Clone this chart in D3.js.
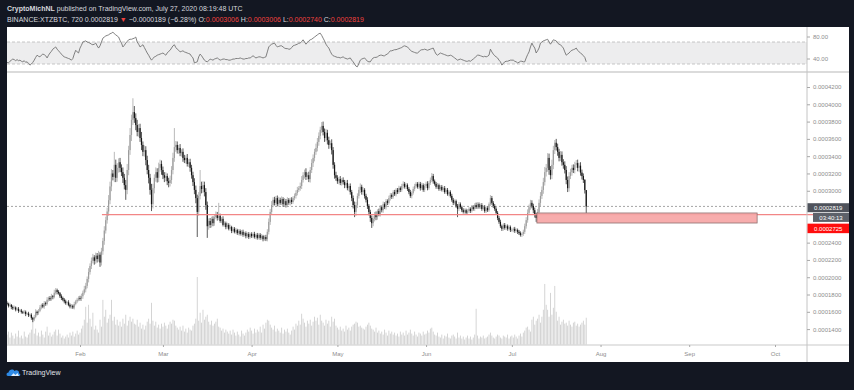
<!DOCTYPE html>
<html><head><meta charset="utf-8">
<script src="https://cdn.jsdelivr.net/npm/d3@7"></script>
<style>html,body{margin:0;padding:0;background:#131722;overflow:hidden}</style>
</head><body>
<svg id="c" width="854" height="390"></svg>
<script>
// ---------- DATA (prices in units of 1e-7 BTC) ----------
const UNIT = 1e-7;
const firstCandle = Date.UTC(2020, 0, 6, 12);
const candleMs = 12 * 3600 * 1000;
const firstOpen = 1700;
const closes = [
1690,1670,1680,1655,1640,1650,1625,1635,1610,1615,
1600,1590,1600,1575,1580,1560,1565,1530,1510,1540,
1600,1585,1610,1650,1680,1660,1700,1690,1740,1760,
1745,1780,1770,1820,1850,1830,1815,1780,1760,1740,
1720,1700,1710,1680,1660,1670,1650,1690,1720,1740,
1760,1750,
1780,1820,1860,1900,1980,2060,2130,2190,2230,2190,
2250,2210,2260,2170,2300,2420,2540,2660,2760,2890,
3050,3200,3160,3300,3150,3265,3330,3265,3215,3150,
3065,3010,3240,3470,3645,3820,3910,3840,3760,3680,
3725,3610,3530,3450,3470,3355,3240,3150,3010,2845,
3030,3150,3215,3150,3265,3310,3240,
3180,3150,3170,3110,3090,3125,3240,3380,3505,3530,
3470,3495,3435,3450,3380,3355,3380,3310,3330,3265,
3180,3100,3010,2915,2755,2940,3055,3020,3065,2985,
2835,2590,2650,2605,2675,2625,2695,2730,2685,2710,
2650,2675,2605,2625,2580,2605,2560,2580,2535,2560,
2525,2545,2510,2535,2500,2525,2490,2510,2475,2500,
2465,2500,
2475,2500,2465,2490,2455,2490,2455,2475,2440,2465,
2440,2525,2640,2755,2835,2895,2860,2915,2845,2895,
2860,2905,2845,2880,2835,2895,2860,2895,2870,2915,
2940,2975,3010,3030,3055,3125,3180,3215,3160,3180,
3135,3240,3320,3380,3450,3495,3565,3635,3705,3750,
3680,3610,3670,3585,3530,3550,3470,3300,3180,3150,
3110,3135,3090,3125,3100,3065,3090,3030,3055,2985,
2915,2835,2755,2835,2940,3010,3045,2985,3010,2940,
2895,2825,2755,2685,2625,2675,2730,2695,2765,2730,
2810,2775,2845,2810,2880,2860,2915,2950,2930,2985,
2960,3010,2985,3030,3010,3055,3080,3045,3065,3020,
2985,2940,2975,3020,3055,3080,3045,3080,3030,3065,
3010,3055,
3080,3030,3090,3125,3170,3110,3080,3045,3065,3020,
3045,3010,3030,2985,3010,2960,2985,2940,2895,2860,
2880,2825,2790,2845,2810,2775,2755,2775,2745,2765,
2790,2765,2810,2790,2835,2810,2845,2810,2835,2790,
2810,2765,2800,2775,2845,2915,2860,2825,2790,2745,
2685,2640,2590,2560,2605,2570,2590,2560,2580,2545,
2545,2560,2535,2545,2525,2510,2490,2500,2525,2590,
2660,2745,2810,2860,2825,2775,2720,2685,2755,2860,
2940,3010,3100,3215,3265,3380,3240,3180,3300,3470,
3555,3505,3450,3380,3415,3330,3300,3240,3125,3030,
3170,3215,3265,3240,3300,3320,3265,3290,3210,3170,
3125,3008,2819
];
const wickHi = [
20,15,25,10,18,22,12,16,20,14,
18,12,22,15,10,20,14,18,12,25,
30,15,22,28,14,20,25,18,30,16,
22,28,15,35,25,18,20,14,22,16,
18,20,12,24,16,20,14,26,18,22,
20,25,
30,25,40,35,28,45,30,38,
40,25,35,30,45,28,40,35,50,40,
45,60,55,50,40,150,60,55,45,50,
40,55,45,60,70,50,80,60,160,70,
55,60,45,50,70,40,55,45,50,60,
45,70,50,40,55,45,60,50,40,
40,35,45,30,40,50,45,60,220,45,
40,35,45,30,40,35,30,45,35,40,
35,40,45,50,40,45,185,50,45,40,
45,40,30,35,25,30,35,30,25,150,
25,20,30,22,18,25,20,28,15,22,
20,25,15,22,18,20,25,15,20,18,
22,15,
20,18,25,15,22,18,20,25,15,20,
25,30,40,35,45,30,35,25,30,35,
25,30,20,35,25,30,20,25,30,22,
28,30,35,25,40,45,35,30,45,30,
40,35,45,40,35,50,45,40,35,45,
50,40,45,35,40,30,45,35,30,40,
30,25,35,20,30,25,30,35,25,30,
25,30,40,35,30,35,40,25,30,20,
25,30,20,25,30,35,25,30,20,28,
25,20,30,22,25,20,28,25,20,22,
25,20,22,28,20,25,30,22,25,20,
22,25,20,28,25,22,20,25,22,28,
20,25,
25,30,22,28,35,25,20,22,25,18,
20,22,18,25,20,22,18,20,25,22,
20,18,22,25,20,18,22,20,18,22,
20,18,25,22,20,28,22,20,18,22,
20,25,22,18,20,35,25,20,22,18,
20,22,25,18,20,22,18,20,22,18,
20,18,22,20,18,22,20,18,25,30,
35,40,30,35,30,25,30,25,35,40,
45,40,50,60,45,55,50,45,60,50,
32,45,40,35,45,40,35,40,45,40,
45,40,35,40,35,35,40,35,40,35,
30,10,0
];
const wickLo = [
15,20,12,25,18,14,20,16,22,12,
20,15,18,25,12,20,16,22,30,18,
15,25,20,14,22,18,25,20,16,22,
20,18,25,15,22,28,16,20,24,18,
22,18,25,16,20,24,18,22,15,20,
18,22,
25,30,22,35,28,40,30,35,
30,45,35,40,30,50,35,40,45,35,
40,50,45,55,40,60,50,45,55,50,
45,60,50,115,50,60,55,70,60,55,
60,50,55,45,60,50,55,60,50,65,
55,80,50,60,45,55,50,45,55,
45,50,40,45,50,40,45,50,45,55,
40,45,35,40,45,35,40,30,35,45,
40,45,50,60,290,45,40,50,45,50,
55,135,40,35,30,35,30,25,30,25,
20,25,18,22,25,20,18,22,25,20,
18,22,20,25,18,20,22,18,25,20,
22,18,
20,22,18,25,20,18,22,20,25,18,
22,25,30,35,30,25,30,28,25,30,
22,25,30,20,28,25,22,30,25,20,
25,30,28,25,30,35,30,40,35,30,
35,40,35,45,40,35,40,45,40,35,
40,45,40,50,45,40,50,45,40,35,
30,35,25,30,28,35,30,25,35,30,
35,40,60,45,35,30,35,30,35,30,
30,35,40,45,55,35,30,35,30,25,
28,25,30,22,28,25,20,28,25,22,
20,25,22,20,25,22,28,20,25,22,
25,22,28,20,25,22,20,25,28,20,
22,25,
22,25,20,22,25,28,20,22,25,20,
22,18,25,20,22,18,25,20,22,25,
20,22,95,25,20,22,18,20,22,18,
20,22,18,20,25,20,22,18,20,22,
18,20,22,20,18,20,22,25,22,20,
25,22,20,25,22,20,25,22,20,22,
20,25,22,20,25,22,20,25,22,25,
28,30,25,30,28,35,30,45,30,35,
40,35,45,40,50,45,55,50,45,50,
45,40,45,40,35,40,45,40,50,45,
40,35,40,35,40,35,40,45,35,40,
35,40,79
];
const volumes = [
100,130,70,120,90,60,110,80,140,70,
90,60,130,80,70,100,120,150,250,110,
160,90,120,80,140,100,70,130,180,90,
120,80,100,130,150,90,150,110,70,90,
60,80,100,70,120,90,130,80,110,140,
100,120,
160,190,250,380,220,400,260,180,
320,150,190,150,120,250,180,450,280,350,
220,260,300,450,240,280,200,250,190,230,
180,260,210,300,190,240,280,230,260,210,
200,250,180,220,160,200,150,190,230,260,
210,420,240,190,230,170,200,160,210,
180,220,190,160,200,230,210,250,240,190,
170,150,180,140,190,130,160,120,170,150,
140,190,210,260,680,240,320,220,350,250,
280,300,230,200,240,190,210,230,260,180,
170,140,160,120,150,130,110,140,100,150,
120,90,130,100,80,140,110,90,120,150,
130,170,
140,110,160,120,150,130,180,120,200,160,
220,250,240,200,170,150,190,130,160,140,
120,170,110,150,130,160,120,100,140,180,
150,210,190,240,200,310,260,220,180,240,
210,250,190,230,280,240,270,200,300,240,
220,190,250,210,240,180,280,230,260,190,
170,150,180,140,160,130,190,150,170,140,
180,200,210,230,220,180,190,170,160,150,
180,200,220,190,160,150,130,170,120,140,
110,130,100,150,120,90,140,110,130,100,
120,90,110,80,130,100,120,90,140,100,
120,150,110,90,130,100,80,120,110,90,
130,100,
110,140,120,160,170,130,100,90,120,80,
70,100,60,90,80,110,70,60,90,100,
80,60,120,70,90,60,80,50,70,90,
60,80,50,70,100,360,90,60,80,70,
90,60,70,80,100,120,90,70,60,80,
100,90,70,60,90,80,70,100,60,80,
90,70,100,80,60,90,110,80,120,140,
170,180,150,130,250,280,200,240,260,300,
220,280,350,610,400,350,280,520,300,370,
590,330,240,280,200,230,250,210,220,190,
240,200,180,220,230,190,210,180,200,220,
240,200,270
];
const rsi = [
33,32,35,37,39,38,36,38,36,37,
35,34,36,33,34,31,28,30,33,37,
42,46,44,43,46,48,47,45,41,46,
50,53,57,59,61,57,54,51,48,45,
43,42,41,40,39,37,40,48,55,52,
50,59,64,70,71,72,70,69,68,66,
65,66,68,63,59,63,70,77,79,81,
82,83,85,86,88,85,83,81,79,73,
68,61,64,68,71,74,75,75,76,77,
79,70,66,61,63,65,60,55,50,46,
41,37,40,43,44,46,47,48,49,50,
48,46,50,53,55,59,63,65,60,57,
55,52,53,54,52,51,50,49,48,44,
41,32,33,34,43,48,45,41,37,35,
34,36,39,38,37,39,40,41,39,37,
38,39,39,38,38,37,37,38,39,39,
40,40,40,41,40,39,39,40,40,41,
41,43,45,43,41,42,43,43,42,41,
42,43,52,61,64,66,67,68,64,61,
62,63,63,61,59,58,58,57,57,60,
63,64,65,66,68,68,71,74,70,66,
69,72,74,75,77,79,81,83,85,86,
82,77,72,66,62,59,53,48,45,44,
43,42,42,41,42,43,41,40,39,40,
41,37,34,30,26,25,31,37,39,40,
41,38,35,34,34,38,41,42,42,43,
45,46,46,45,45,47,48,51,54,54,
55,56,56,57,58,59,60,62,63,62,
61,58,55,53,52,51,50,50,52,55,
56,56,57,56,55,56,57,58,59,53,
48,46,48,50,49,48,47,46,45,45,
46,45,43,41,39,37,38,39,38,37,
36,35,35,36,35,37,39,41,44,46,
46,45,44,43,44,43,44,46,57,52,
48,45,43,41,37,34,28,31,34,35,
35,36,37,37,37,35,34,32,33,35,
35,34,34,41,47,52,61,68,63,59,
50,54,59,68,70,72,73,74,75,70,
66,70,74,73,72,68,66,65,62,59,
52,46,48,50,53,55,56,57,59,55,
52,50,48,45,42,34
];
const priceTicks = [0.00042,0.0004,0.00038,0.00036,0.00034,0.00032,0.0003,0.00024,0.00022,0.0002,0.00018,0.00016,0.00014];
const rsiTicks = [80, 40];
const rsiBands = [70, 30];
const monthTicks = [1,2,3,4,5,6,7,8,9].map(m => new Date(Date.UTC(2020, m, 1)));
const lastPrice = 0.0002819;
const levelPrice = 0.0002725;
const levelStart = Date.UTC(2020, 1, 8, 16);
const zoneStart = Date.UTC(2020, 6, 9, 18), zoneEnd = Date.UTC(2020, 8, 24, 18);
const zoneTop = 0.0002743, zoneBottom = 0.0002627;
const countdown = "03:40:13";
const volumeMax = 680;

const N = closes.length;
[wickHi, wickLo, volumes, rsi].forEach((a, k) => { if (a.length !== N) throw new Error("length mismatch " + k + ": " + a.length + " vs " + N); });

const candles = closes.map((c, i) => {
  const o = i === 0 ? firstOpen : closes[i - 1];
  return {
    t: new Date(firstCandle + i * candleMs),
    o: o * UNIT, c: c * UNIT,
    h: (Math.max(o, c) + wickHi[i]) * UNIT,
    l: (Math.min(o, c) - wickLo[i]) * UNIT,
    v: volumes[i], r: rsi[i]
  };
});

// ---------- LAYOUT ----------
const L = 7, R = 807, RE = 849, T = 27, B = 362;
const rsiBot = 72, mainTop = 72, mainBot = 345;
const svg = d3.select("#c");
const FONT = "'Liberation Sans', Arial, sans-serif";

const x = d3.scaleUtc().domain([Date.UTC(2020, 1, 1), Date.UTC(2020, 9, 1)]).range([80, 775]);
const y = d3.scaleLinear().domain([0.00042, 0.00014]).range([87, 329.1]);
const yR = d3.scaleLinear().domain([70, 30]).range([42, 64]);
const yV = d3.scaleLinear().domain([0, volumeMax]).range([344.5, 277]);

svg.append("rect").attr("width", 854).attr("height", 390).attr("fill", "#131722");
svg.append("rect").attr("x", L).attr("y", T).attr("width", RE - L).attr("height", B - T).attr("fill", "#ffffff");

const defs = svg.append("defs");
defs.append("clipPath").attr("id", "cm").append("rect").attr("x", L).attr("y", mainTop).attr("width", R - L).attr("height", mainBot - mainTop);
defs.append("clipPath").attr("id", "cr").append("rect").attr("x", L).attr("y", T).attr("width", R - L).attr("height", rsiBot - T);

// ---------- RSI PANE ----------
const rp = svg.append("g").attr("clip-path", "url(#cr)");
rp.append("rect").attr("x", L).attr("width", R - L).attr("y", yR(rsiBands[0])).attr("height", yR(rsiBands[1]) - yR(rsiBands[0])).attr("fill", "#ededee");
rsiBands.forEach(b => rp.append("line").attr("x1", L).attr("x2", R).attr("y1", yR(b)).attr("y2", yR(b))
  .attr("stroke", "#b9b9b9").attr("stroke-width", 0.8).attr("stroke-dasharray", "3,2"));
rp.append("path").datum(candles).attr("fill", "none").attr("stroke", "#737373").attr("stroke-width", 0.9)
  .attr("d", d3.line().x(d => x(d.t)).y(d => yR(d.r)));

// ---------- MAIN PANE ----------
const mp = svg.append("g").attr("clip-path", "url(#cm)");
mp.selectAll("rect.vol").data(candles).join("rect").attr("class", "vol")
  .attr("x", d => x(d.t) - 0.45).attr("width", 0.9)
  .attr("y", d => yV(d.v)).attr("height", d => yV(0) - yV(d.v)).attr("fill", "#d0d0d0");

mp.append("line").attr("x1", L).attr("x2", R).attr("y1", y(lastPrice)).attr("y2", y(lastPrice))
  .attr("stroke", "#8e8e8e").attr("stroke-width", 0.8).attr("stroke-dasharray", "2,2");

const cg = mp.append("g");
const up = "#9c9c9c", dn = "#141414";
cg.selectAll("line.w").data(candles).join("line").attr("class", "w")
  .attr("x1", d => x(d.t)).attr("x2", d => x(d.t)).attr("y1", d => y(d.h)).attr("y2", d => y(d.l))
  .attr("stroke", d => d.c >= d.o ? up : dn).attr("stroke-width", 0.7);
cg.selectAll("rect.b").data(candles).join("rect").attr("class", "b")
  .attr("x", d => x(d.t) - 0.6).attr("width", 1.2)
  .attr("y", d => y(Math.max(d.o, d.c)))
  .attr("height", d => Math.max(0.7, y(Math.min(d.o, d.c)) - y(Math.max(d.o, d.c))))
  .attr("fill", d => d.c >= d.o ? up : dn);

mp.append("line").attr("x1", x(levelStart)).attr("x2", R).attr("y1", y(levelPrice)).attr("y2", y(levelPrice))
  .attr("stroke", "#f28686").attr("stroke-width", 1.3);
mp.append("rect").attr("x", x(zoneStart)).attr("width", x(zoneEnd) - x(zoneStart))
  .attr("y", y(zoneTop)).attr("height", y(zoneBottom) - y(zoneTop))
  .attr("fill", "#f6a6a6").attr("fill-opacity", 0.92).attr("stroke", "#8f7070").attr("stroke-width", 0.8);
svg.append("line").attr("x1", R).attr("x2", RE).attr("y1", y(levelPrice)).attr("y2", y(levelPrice))
  .attr("stroke", "#f28686").attr("stroke-width", 1.3);

// ---------- FRAME LINES ----------
svg.append("line").attr("x1", L).attr("x2", RE).attr("y1", rsiBot).attr("y2", rsiBot).attr("stroke", "#cfcfcf").attr("stroke-width", 1.4);
svg.append("line").attr("x1", L).attr("x2", RE).attr("y1", mainBot).attr("y2", mainBot).attr("stroke", "#c9c9c9").attr("stroke-width", 1);
svg.append("line").attr("x1", R).attr("x2", R).attr("y1", T).attr("y2", B).attr("stroke", "#c4c4c4").attr("stroke-width", 1);

// ---------- AXES ----------
function styleAxis(g) {
  g.select(".domain").remove();
  g.selectAll(".tick line").attr("stroke", "#a8a8a8");
  g.selectAll(".tick text").attr("fill", "#8d8d8d").attr("font-size", 6).attr("font-family", FONT);
}
svg.append("g").attr("transform", `translate(${R},0)`)
  .call(d3.axisRight(y).tickValues(priceTicks).tickSize(3).tickPadding(3).tickFormat(d3.format(".7f"))).call(styleAxis);
svg.append("g").attr("transform", `translate(${R},0)`)
  .call(d3.axisRight(yR).tickValues(rsiTicks).tickSize(3).tickPadding(3).tickFormat(d3.format(".2f"))).call(styleAxis);
svg.append("g").attr("transform", `translate(0,${mainBot})`)
  .call(d3.axisBottom(x).tickValues(monthTicks).tickSize(2).tickPadding(5).tickFormat(d3.utcFormat("%b"))).call(styleAxis);

// ---------- PRICE LABELS ----------
function priceTag(yc, h, text, bg, x0) {
  svg.append("rect").attr("x", x0).attr("y", yc - h / 2).attr("width", RE - x0).attr("height", h).attr("fill", bg);
  svg.append("text").attr("x", (x0 + RE) / 2).attr("y", yc).attr("dy", "0.35em").attr("text-anchor", "middle")
    .attr("fill", "#ffffff").attr("font-size", 6).attr("font-family", FONT).text(text);
}
const yl = y(lastPrice);
priceTag(yl + 1.3, 9, d3.format(".7f")(lastPrice), "#4f535c", R + 0.5);
priceTag(yl + 11, 9, countdown, "#5d616a", R + 6);
priceTag(yl + 22, 9.5, d3.format(".7f")(levelPrice), "#ff0d0d", R + 0.5);

// ---------- HEADER ----------
const h1 = svg.append("text").attr("x", 7).attr("y", 10.5).attr("font-size", 7).attr("font-family", FONT).attr("fill", "#d6d8de");
h1.append("tspan").attr("font-weight", "bold").text("CryptoMichNL");
h1.append("tspan").text(" published on TradingView.com, July 27, 2020 08:19:48 UTC");
const red = "#f0423f";
const h2 = svg.append("text").attr("x", 7).attr("y", 21.5).attr("font-size", 7).attr("font-family", FONT).attr("fill", "#d6d8de");
[["BINANCE:XTZBTC, 720 ", null], ["0.0002819 ", null], ["▼", red], [" −0.0000189 (−6.28%) ", null],
 ["O:", null], ["0.0003006", red], [" H:", null], ["0.0003006", red], [" L:", null], ["0.0002740", red],
 [" C:", null], ["0.0002819", red]].forEach(([t, c]) => { const s = h2.append("tspan").text(t); if (c) s.attr("fill", c); });

// ---------- FOOTER LOGO ----------
const lg = svg.append("g").attr("transform", "translate(7,368)");
lg.append("path").attr("d", "M1,8 C-1,8 -1,4.5 1.5,4.5 C2,1.5 6,0.5 7.5,3 C9,1.5 12.5,2.5 12,5.5 C14,6 13.5,8 12,8 Z").attr("fill", "#2e8ae6");
lg.append("path").attr("d", "M4,8 L6.5,5.2 L8.5,7 L10.5,5 L12,8 Z").attr("fill", "#ffffff").attr("opacity", 0.85);
svg.append("text").attr("x", 22).attr("y", 374.5).attr("font-size", 7).attr("font-family", FONT).attr("fill", "#e0e3eb").text("TradingView");
</script>
</body></html>
